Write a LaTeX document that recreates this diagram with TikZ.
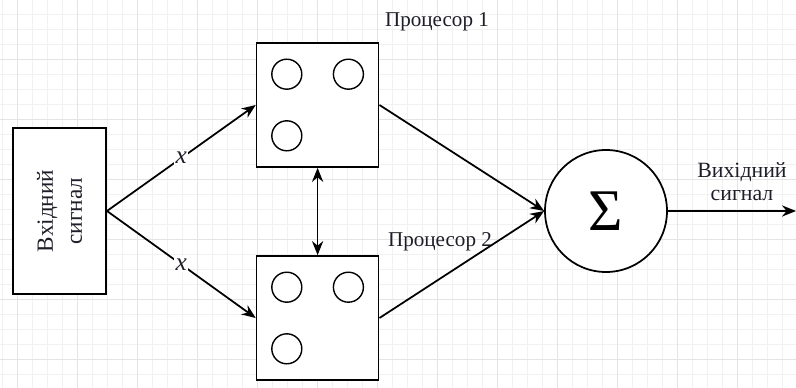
\documentclass[tikz,border=0pt]{standalone}
\usepackage{fontspec}
\setmainfont{Liberation Serif}
\usepackage{xcolor}
\usetikzlibrary{arrows.meta,positioning}
\definecolor{gridC}{HTML}{F1F1F1}
\definecolor{gridM}{HTML}{E4E4E4}
\definecolor{ink}{HTML}{1E1E28}
\newcommand{\lblIn}{Вхідний\\сигнал}
\newcommand{\lblOut}{Вихідний\\сигнал}
\newcommand{\lblProcA}{Процесор 1}
\newcommand{\lblProcB}{Процесор 2}

\begin{document}
\begin{tikzpicture}[
  font=\fontsize{15}{18}\selectfont,
  >={Stealth[length=3.5mm,width=2.8mm]},
  line width=1.25pt,
  src/.style  ={draw, fill=white, minimum width=23.25mm, minimum height=41.5mm,
                inner sep=0pt},
  box/.style  ={draw, fill=white, minimum width=30.5mm, minimum height=31mm,
                inner sep=0pt},
  core/.style ={draw, circle, minimum size=7.5mm, inner sep=0pt, line width=1pt},
  sum/.style  ={draw, circle, fill=white, minimum size=30.5mm, inner sep=0pt},
  flow/.style ={->},
  lbl/.style  ={inner sep=1pt, align=center, text=ink},
]

% ---- geometry --------------------------------------------------------------
\def\rowA{-2.625}   % processor 1
\def\rowM{-5.275}   % signal line
\def\rowB{-7.95}    % processor 2
\def\cA{1.49} \def\cB{7.94} \def\cC{15.15} \def\cD{19.9}

\useasboundingbox (0,0) rectangle (\cD,-9.675);

% ---- grid paper ------------------------------------------------------------
\begin{scope}
  \clip (0,0) rectangle (\cD,-9.675);
  \draw[gridC, line width=0.5pt, shift={(0.425,0.025)}, step=0.375] (-1,-11) grid (21,1);
  \draw[gridM, line width=0.6pt, shift={(0.425,0.025)}, step=1.5]   (-1,-11) grid (21,1);
\end{scope}

% ---- input -----------------------------------------------------------------
\node[src] (in) at (\cA,\rowM) {};
\node[lbl, rotate=90, font=\fontsize{16.5}{20.6}\selectfont] (inlbl) at (in) {\lblIn};

% ---- the two processors ----------------------------------------------------
\node[box] (p1) at (\cB,\rowA) {};
\node[box] (p2) at (\cB,\rowB) {};
\foreach \p in {p1,p2} {
  \node[core] (\p-a) at ([shift={(-7.7mm, 7.7mm)}]\p.center) {};
  \node[core] (\p-b) at ([shift={( 7.7mm, 7.7mm)}]\p.center) {};
  \node[core] (\p-c) at ([shift={(-7.7mm,-7.7mm)}]\p.center) {};
}
\node[lbl] (p1lbl) at (10.925,-0.55) {\lblProcA};
\node[lbl] (p2lbl) at (11.0,-6.05)   {\lblProcB};

% ---- summation -------------------------------------------------------------
\node[sum, font=\fontsize{42}{42}\selectfont] (sum) at (\cC,\rowM) {Σ};
\coordinate (out) at (\cD,\rowM);

% ---- connectors ------------------------------------------------------------
\draw[flow] (in.east) -- (p1.west)
  node[lbl, midway, fill=white, inner sep=1pt, font=\fontsize{18}{18}\selectfont] {\textit{x}};
\draw[flow] (in.east) -- (p2.west)
  node[lbl, midway, fill=white, inner sep=1pt, font=\fontsize{18}{18}\selectfont] {\textit{x}};
\draw[<->] (p1.south) -- (p2.north);
\draw[flow] (p1.east) -- (sum.west);
\draw[flow] (p2.east) -- (sum.west);
\draw[flow] (sum.east) -- (out);
\node[lbl, font=\fontsize{15.5}{16.3}\selectfont] (outlbl) at (18.55,-4.53) {\lblOut};

\end{tikzpicture}
\end{document}
